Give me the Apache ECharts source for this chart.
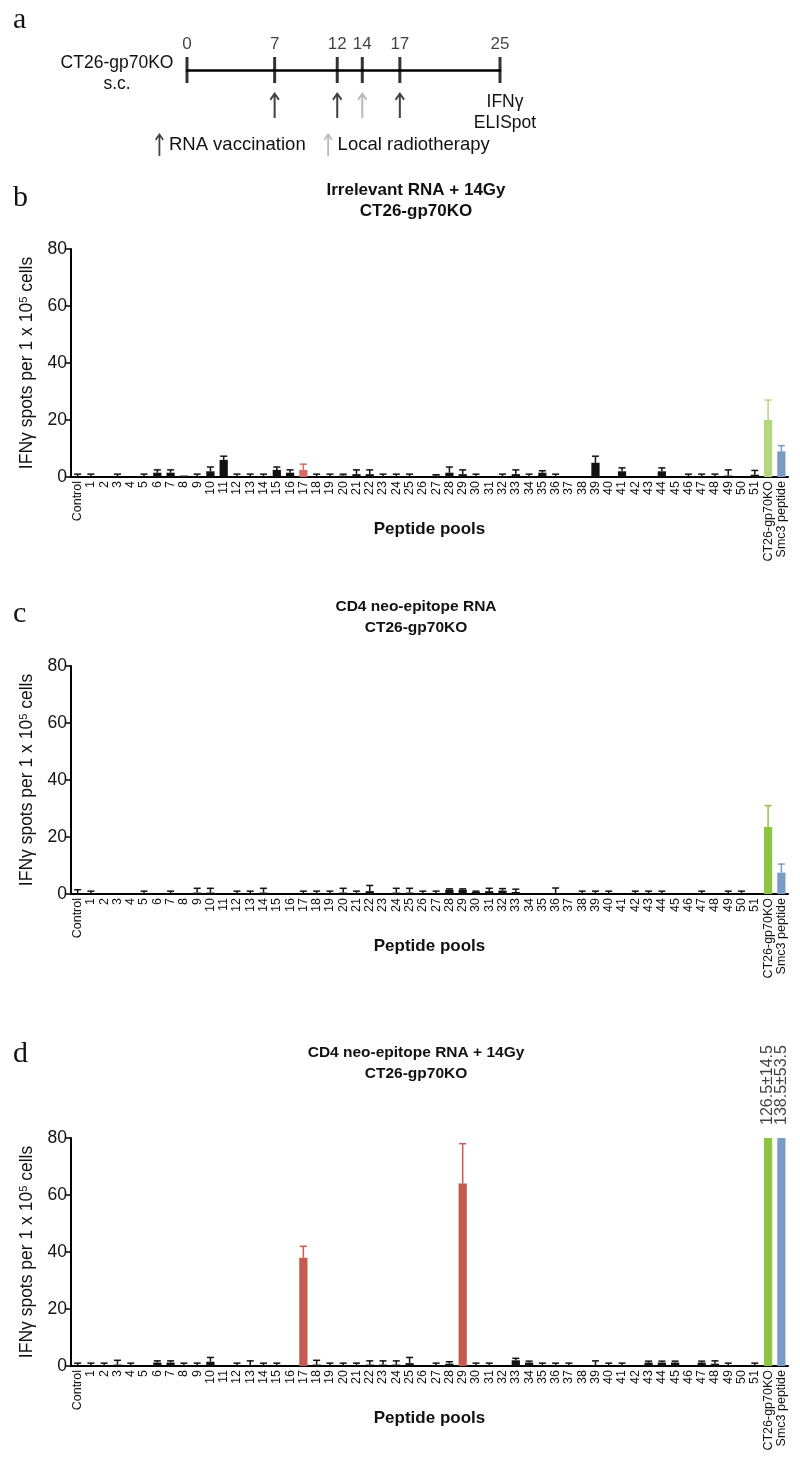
<!DOCTYPE html>
<html><head><meta charset="utf-8">
<script src="https://cdn.jsdelivr.net/npm/echarts@6/dist/echarts.min.js"></script>
<style>html,body{margin:0;padding:0;background:#fff}#c{width:800px;height:1476px}</style>
</head><body><div id="c"></div>
<script>
// ---------------- DATA ----------------
const categories = ['Control'].concat(Array.from({length: 51}, (_, i) => String(i + 1)), ['CT26-gp70KO', 'Smc3 peptide']);
const yTicks = [0, 20, 40, 60, 80];

// Panel b: Irrelevant RNA + 14Gy
const bMeans = [0,0,0,0,0,0,1.5,1.5,0.5,0,2,6,0,0,0,2.5,1.5,2.5,0,0,0.5,1,1,0,0,0,0,0.5,1.5,1,0,0,0,1,0,1.5,0,0,0,5,0,2,0,0,2,0,0,0,0,0.5,0,0.8,20,9];
const bErrs  = [1,1,0,1,0,1,1,1,0,1,1.5,1.3,1,1,1,1,1,2,1,1,0.5,1.5,1.5,1,1,1,0,0.3,2,1.5,1,0,1,1.5,1,0.7,1,0,0,2.3,0,1.2,0,0,1.2,0,1,1,1,2,0,1.5,7,2];
// Panel c: CD4 neo-epitope RNA
const cMeans = [0,0,0,0,0,0,0,0,0,0.5,0.5,0,0,0,0.5,0,0,0,0,0,0.5,0,1,0,0.5,0.5,0,0,1.5,1.5,0.7,1,1.2,0.7,0,0,0.3,0,0,0,0,0,0,0,0,0,0,0,0,0,0,0,23.5,7.5];
const cErrs  = [1.5,1,0,0,0,1,0,1,0,1.5,1.5,0,1,1,1.5,0,0,1,1,1,1.5,1,2,0,1.5,1.5,1,1,0.3,0.3,0.3,1,0.7,1,0,0,1.8,0,1,1,1,0,1,1,1,0,0,1,0,1,1,0,7.5,3];
// Panel d: CD4 neo-epitope RNA + 14Gy
const dMeans = [0,0,0,0.5,0,0,1.2,1.2,0,0,1.5,0,0,0.3,0,0,0,38,0.5,0,0,0,0.5,0.5,0.5,1,0,0,0.8,64,0,0,0,2,1.2,0,0,0,0,0.3,0,0,0,1.2,1.2,1.2,0,1.2,0.8,0,0,0,126.5,138.5];
const dErrs  = [1,1,1,1.5,1,0,0.6,0.6,1,1,1.5,0,1,1.5,1,1,0,4,1.5,1,1,1,1.3,1.3,1.3,2,0,1,0.7,14,1,1,0,0.7,0.5,1,1,1,0,1.5,1,1,0,0.5,0.5,0.5,0,0.5,1,1,0,1,14.5,53.5];

// Panel a: schedule
const timelineDays = [0, 7, 12, 14, 17, 25];
const vaccinationDays = [7, 12, 17];
const radiotherapyDays = [14];

// ---------------- STYLE ----------------
const SANS = 'Liberation Sans, Arial, Helvetica, sans-serif';
const SERIF = 'Liberation Serif, Times New Roman, serif';
const COL = {black:'#111111', red:'#c65a50', redLight:'#d46b62', green:'#8dc540', greenLight:'#b5d67e', blue:'#7b9bc6', gray:'#a8a8a8'};
const ARROW = 'path://M5,0 L10,7 L8.6,8.4 L6,4.8 L6,26 L4,26 L4,4.8 L1.4,8.4 L0,7 Z';
const Y_MAX = 80;

const panels = [
  {letter:'b', title:'Irrelevant RNA + 14Gy\nCT26-gp70KO', fs:17, means:bMeans, errs:bErrs, hl:{17:'redLight', 52:'greenLight', 53:'blue'}, top:249, titleTop:175, letterTop:178},
  {letter:'c', title:'CD4 neo-epitope RNA\nCT26-gp70KO', fs:15.5, means:cMeans, errs:cErrs, hl:{52:'green', 53:'blue'}, top:666, titleTop:591, letterTop:594},
  {letter:'d', title:'CD4 neo-epitope RNA + 14Gy\nCT26-gp70KO', fs:15.5, means:dMeans, errs:dErrs, hl:{17:'red', 29:'red', 52:'green', 53:'blue'}, top:1138, titleTop:1037, letterTop:1034}
];
const GRID_H = 228, GRID_L = 71, GRID_R = 12;

const grids = [{left:187, right:300, top:70, height:35}];
const xAxes = [{
  type:'value', gridIndex:0, min:0, max:25, position:'top',
  axisLine:{onZero:false, lineStyle:{color:'#000', width:2.5}},
  axisTick:{show:false}, axisLabel:{show:false}, splitLine:{show:false}
}];
const yAxes = [{type:'value', gridIndex:0, min:0, max:1, show:false}];
const series = [
  {type:'scatter', xAxisIndex:0, yAxisIndex:0, symbol:'rect', symbolSize:[3,26], silent:true,
   itemStyle:{color:'#000'}, data: timelineDays.map(d => [d, 1]),
   label:{show:true, position:'top', distance:4, formatter: p => String(p.value[0]), fontSize:17, color:'#111', fontFamily:SANS}},
  {type:'scatter', name:'RNA vaccination', xAxisIndex:0, yAxisIndex:0, symbol:ARROW, symbolSize:[10,26], clip:false,
   itemStyle:{color:'#111'}, data: vaccinationDays.map(d => [d, 0])},
  {type:'scatter', name:'Local radiotherapy', xAxisIndex:0, yAxisIndex:0, symbol:ARROW, symbolSize:[10,26], clip:false,
   itemStyle:{color:COL.gray}, data: radiotherapyDays.map(d => [d, 0])}
];
const titles = [
  {text:'a', left:8, top:0, textStyle:{fontFamily:SERIF, fontSize:30, fontWeight:'normal', color:'#111'}},
  {text:'CT26-gp70KO\ns.c.', left:112, top:48, textAlign:'center', textStyle:{fontFamily:SANS, fontSize:17.5, fontWeight:'normal', color:'#111', lineHeight:21, align:'center'}},
  {text:'IFNγ\nELISpot', left:500, top:87, textAlign:'center', textStyle:{fontFamily:SANS, fontSize:17.5, fontWeight:'normal', color:'#111', lineHeight:21, align:'center'}}
];

function errRender(params, api) {
  const i = api.value(0), m = api.value(1), e = api.value(2);
  if (e <= 0 || m > Y_MAX) return null;
  const p0 = api.coord([i, m]);
  const p1 = api.coord([i, m + e]);
  const c = api.visual('color');
  return {type:'group', children:[
    {type:'line', shape:{x1:p0[0], y1:p0[1], x2:p1[0], y2:p1[1]}, style:{stroke:c, lineWidth:1.5}},
    {type:'line', shape:{x1:p1[0]-3.5, y1:p1[1], x2:p1[0]+3.5, y2:p1[1]}, style:{stroke:c, lineWidth:1.5}}
  ]};
}

panels.forEach((pn, k) => {
  const gi = k + 1;
  grids.push({left:GRID_L, right:GRID_R, top:pn.top, height:GRID_H});
  const colorOf = i => COL[pn.hl[i] || 'black'];
  xAxes.push({
    type:'category', gridIndex:gi, data:categories,
    axisLine:{lineStyle:{color:'#000', width:2}},
    axisTick:{alignWithLabel:true, length:5, interval:0, lineStyle:{color:'#000', width:1.5}},
    axisLabel:{interval:0, rotate:90, fontSize:12.5, color:'#111', margin:4, fontFamily:SANS},
    name:'Peptide pools', nameLocation:'middle', nameGap:44, nameMoveOverlap:false,
    nameTextStyle:{fontSize:17, fontWeight:'bold', color:'#111', fontFamily:SANS}
  });
  yAxes.push({
    type:'value', gridIndex:gi, min:0, max:Y_MAX, interval:20,
    axisLine:{show:true, lineStyle:{color:'#000', width:2}},
    axisTick:{show:true, length:5, lineStyle:{color:'#000', width:1.5}},
    axisLabel:{fontSize:17.5, color:'#111', margin:4, fontFamily:SANS},
    splitLine:{show:false},
    name:'IFNγ spots per 1 x 10{sup|5} cells', nameLocation:'middle', nameGap:23,
    nameTextStyle:{fontSize:17.5, color:'#111', fontFamily:SANS, rich:{sup:{fontSize:11, verticalAlign:'top', fontFamily:SANS, color:'#111', padding:[0,0,7,0]}}}
  });
  series.push({
    type:'bar', xAxisIndex:gi, yAxisIndex:gi, barWidth:'62%', clip:true, silent:true,
    data: pn.means.map((m, i) => ({value:m, itemStyle:{color:colorOf(i)}}))
  });
  series.push({
    type:'custom', xAxisIndex:gi, yAxisIndex:gi, renderItem:errRender, silent:true, z:3,
    data: pn.means.map((m, i) => ({value:[i, m, pn.errs[i]], itemStyle:{color:colorOf(i)}}))
  });
  const off = pn.means.map((m, i) => m > Y_MAX ? {value:[i, Y_MAX], mean:m, err:pn.errs[i]} : null).filter(Boolean);
  if (off.length) {
    series.push({
      type:'scatter', xAxisIndex:gi, yAxisIndex:gi, symbol:'circle', symbolSize:2, clip:false, silent:true,
      itemStyle:{color:'rgba(0,0,0,0)'},
      data: off,
      label:{show:true, position:'top', rotate:90, align:'left', verticalAlign:'middle', distance:12,
             formatter: p => p.data.mean + '±' + p.data.err, fontSize:16, color:'#111', fontFamily:SANS}
    });
  }
  titles.push({text:pn.letter, left:8, top:pn.letterTop, textStyle:{fontFamily:SERIF, fontSize:30, fontWeight:'normal', color:'#111'}});
  titles.push({text:pn.title, left:411, top:pn.titleTop, textAlign:'center',
    textStyle:{fontFamily:SANS, fontSize:pn.fs, fontWeight:'bold', color:'#111', lineHeight:21, align:'center'}});
});

const option = {
  animation:false,
  backgroundColor:'#fff',
  title: titles,
  legend: {
    left:150, top:128, itemWidth:9, itemHeight:23, itemGap:18,
    textStyle:{fontSize:18.5, color:'#111', fontFamily:SANS},
    selectedMode:false,
    data:[{name:'RNA vaccination', icon:ARROW}, {name:'Local radiotherapy', icon:ARROW}]
  },
  grid: grids, xAxis: xAxes, yAxis: yAxes, series: series
};
const chart = echarts.init(document.getElementById('c'));
chart.setOption(option);
</script>
</body></html>
